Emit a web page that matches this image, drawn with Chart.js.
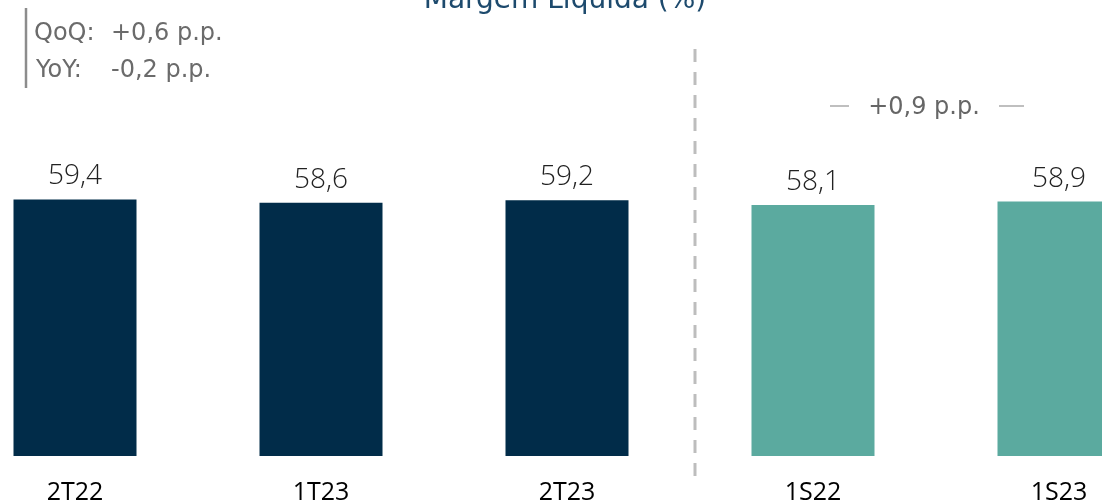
<!DOCTYPE html>
<html>
<head>
<meta charset="utf-8">
<script src="https://cdn.jsdelivr.net/npm/chart.js@4.4.0/dist/chart.umd.min.js"></script>
<style>
  html, body { margin: 0; padding: 0; background: #ffffff; overflow: hidden; }
  #wrap { position: relative; width: 1102px; height: 501px; overflow: hidden; }
  #c { position: absolute; left: -48px; top: 0; }
</style>
</head>
<body>
<div id="wrap"><canvas id="c" width="1230" height="529"></canvas></div>
<script>
// ---- data ----
const categories = ['2T22', '1T23', '2T23', '1S22', '1S23'];
const values = [59.4, 58.6, 59.2, 58.1, 58.9];
const barColors = ['#012c49', '#012c49', '#012c49', '#5baa9f', '#5baa9f'];
const titleText = 'Margem Líquida (%)';
const qoqLabel = 'QoQ:';
const qoqValue = '+0,6 p.p.';
const yoyLabel = 'YoY:';
const yoyValue = '-0,2 p.p.';
const semesterDelta = '+0,9 p.p.';

const OFFSET = 48; // canvas shifted left by this many px

const fmt = v => v.toFixed(1).replace('.', ',');

const annotations = {
  id: 'annotations',
  afterDatasetsDraw(chart) {
    const ctx = chart.ctx;
    const x = chart.scales.x;
    const meta = chart.getDatasetMeta(0);
    ctx.save();
    // value labels
    ctx.font = '300 28px "Open Sans"';
    ctx.fillStyle = '#222222';
    ctx.textAlign = 'center';
    ctx.textBaseline = 'alphabetic';
    meta.data.forEach((bar, i) => {
      ctx.fillText(fmt(values[i]), bar.x, bar.y - 15);
    });

    // title (partially cut at top)
    ctx.font = '28px "DejaVu Sans"';
    ctx.fillStyle = '#1d4a6d';
    ctx.textAlign = 'center';
    ctx.fillText(titleText, 565 + OFFSET, 8);

    // dashed separator
    const sepX = (x.getPixelForValue(2) + x.getPixelForValue(3)) / 2 + 5;
    ctx.strokeStyle = '#bdbdbd';
    ctx.lineWidth = 3;
    ctx.setLineDash([13, 10]);
    ctx.beginPath();
    ctx.moveTo(sepX, 49);
    ctx.lineTo(sepX, 482);
    ctx.stroke();
    ctx.setLineDash([]);

    // semester delta
    const midS = (x.getPixelForValue(3) + x.getPixelForValue(4)) / 2 - 12;
    ctx.font = '24px "DejaVu Sans"';
    ctx.fillStyle = '#666666';
    ctx.textAlign = 'center';
    ctx.textBaseline = 'middle';
    ctx.fillText(semesterDelta, midS, 108);
    ctx.strokeStyle = '#aaaaaa';
    ctx.lineWidth = 1.5;
    ctx.beginPath();
    ctx.moveTo(midS - 94, 106); ctx.lineTo(midS - 75, 106);
    ctx.moveTo(midS + 75, 106); ctx.lineTo(midS + 100, 106);
    ctx.stroke();

    // QoQ / YoY box
    ctx.strokeStyle = '#8c8c8c';
    ctx.lineWidth = 2.5;
    ctx.beginPath();
    ctx.moveTo(26 + OFFSET, 8);
    ctx.lineTo(26 + OFFSET, 88);
    ctx.stroke();
    ctx.font = '24px "DejaVu Sans"';
    ctx.fillStyle = '#6b6b6b';
    ctx.textAlign = 'left';
    ctx.textBaseline = 'middle';
    ctx.fillText(qoqLabel, 34 + OFFSET, 34);
    ctx.fillText(qoqValue, 111 + OFFSET, 34);
    ctx.fillText(yoyLabel, 36 + OFFSET, 71);
    ctx.fillText(yoyValue, 111 + OFFSET, 71);
    ctx.restore();
  }
};

new Chart(document.getElementById('c'), {
  type: 'bar',
  data: {
    labels: categories,
    datasets: [{
      data: values,
      backgroundColor: barColors,
      borderWidth: 0,
      categoryPercentage: 1.0,
      barPercentage: 0.5
    }]
  },
  options: {
    responsive: false,
    animation: false,
    devicePixelRatio: 1,
    layout: { padding: { top: 132, bottom: 0, left: 0, right: 0 } },
    plugins: { legend: { display: false }, title: { display: false }, tooltip: { enabled: false } },
    scales: {
      x: {
        grid: { display: false, drawTicks: false },
        border: { display: false },
        ticks: {
          color: '#000000',
          font: { family: 'Open Sans', size: 25, lineHeight: 1.0 },
          padding: 24,
          maxRotation: 0,
          autoSkip: false
        }
      },
      y: {
        display: false,
        min: 0,
        max: 75
      }
    }
  },
  plugins: [annotations]
});
</script>
</body>
</html>
